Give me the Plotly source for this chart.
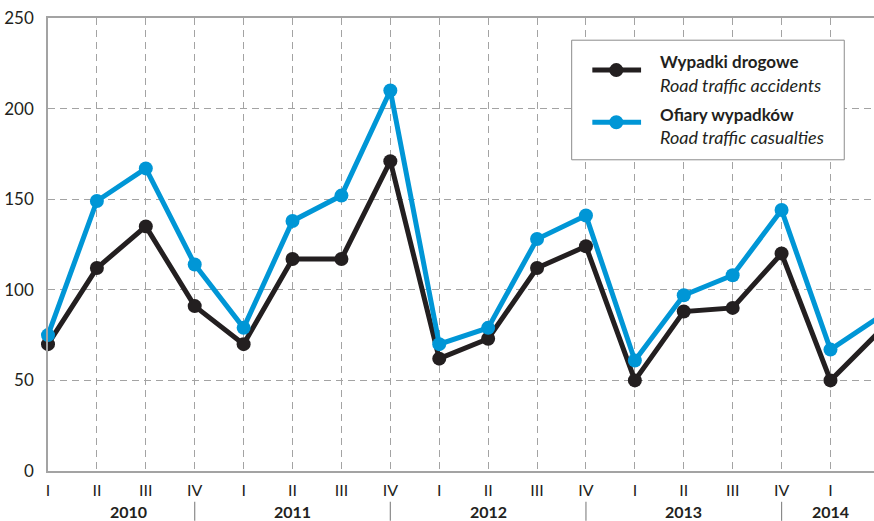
import plotly.graph_objects as go

# ---- data ----
quarters = ["I", "II", "III", "IV"] * 4 + ["I", "II"]
years = ["2010", "2011", "2012", "2013", "2014"]
accidents = [70, 112, 135, 91, 70, 117, 117, 171, 62, 73, 112, 124, 50, 88, 90, 120, 50, 77]
casualties = [75, 149, 167, 114, 79, 138, 152, 210, 70, 79, 128, 141, 61, 97, 108, 144, 67, 85]
y_ticks = [0, 50, 100, 150, 200, 250]
legend_names = [("Wypadki drogowe", "Road traffic accidents"),
                ("Ofiary wypadków", "Road traffic casualties")]

# ---- style ----
BLACK = "#231f20"
BLUE = "#0096d6"
GRID = "#a3a3a3"
FONT = "Lato"
x_idx = list(range(len(quarters)))

fig = go.Figure()
for vals, col in [(accidents, BLACK), (casualties, BLUE)]:
    sizes = [14] * (len(vals) - 1) + [0]
    fig.add_trace(go.Scatter(
        x=x_idx, y=vals, mode="lines+markers",
        line=dict(color=col, width=5),
        marker=dict(color=col, size=sizes, opacity=1, line=dict(width=0)),
        cliponaxis=False, showlegend=False, hoverinfo="skip"))

fig.update_layout(
    width=874, height=521, autosize=False,
    margin=dict(l=48, r=0, t=18, b=50, autoexpand=False),
    paper_bgcolor="white", plot_bgcolor="white",
    font=dict(family=FONT, color=BLACK, size=16),
    showlegend=False,
)
fig.update_xaxes(
    range=[0, 16.89], tickmode="array", tickvals=x_idx, ticktext=quarters,
    showgrid=True, gridcolor=GRID, gridwidth=1, griddash="7px,5px",
    showline=True, linecolor=GRID, linewidth=1.5, mirror=True,
    ticks="", tickfont=dict(size=16, family=FONT, color=BLACK),
    zeroline=False, automargin=False, ticklabelstandoff=4,
)
fig.update_yaxes(
    range=[0, 250], tickmode="array", tickvals=y_ticks,
    showgrid=True, gridcolor=GRID, gridwidth=1, griddash="7px,5px",
    showline=True, linecolor=GRID, linewidth=1.5,
    ticks="", tickfont=dict(size=17, family=FONT, color=BLACK),
    zeroline=False, ticklabelstandoff=9, automargin=False,
)

# year labels and separators
year_x = [1.64, 5, 9, 13, 16]
for yr, xp in zip(years, year_x):
    fig.add_annotation(x=xp, xref="x", y=-0.0905, yref="paper", text="<b>%s</b>" % yr,
                       showarrow=False, font=dict(size=16, family=FONT, color=BLACK),
                       xanchor="center", yanchor="middle")
for i, q in enumerate(quarters):
    if q == "IV":
        fig.add_shape(type="line", xref="x", yref="paper", x0=i, x1=i, y0=-0.068, y1=-0.11,
                      line=dict(color="#8a8a8a", width=1.2))

# legend box
fig.add_shape(type="rect", xref="paper", yref="paper", x0=0.634, x1=0.964, y0=0.687, y1=0.951,
              fillcolor="white", line=dict(color="#8c8c8c", width=1), layer="above")
for (bold, ital), col, ly in zip(legend_names, [BLACK, BLUE], [0.885, 0.770]):
    fig.add_shape(type="line", xref="paper", yref="paper", x0=0.659, x1=0.718, y0=ly, y1=ly,
                  line=dict(color=col, width=5), layer="above")
    fig.add_shape(type="circle", xref="paper", yref="paper", xsizemode="pixel", ysizemode="pixel",
                  xanchor=0.688, yanchor=ly, x0=-7, x1=7, y0=-7, y1=7,
                  fillcolor=col, line=dict(color=col, width=0), layer="above")
    fig.add_annotation(x=0.739, y=ly + 0.018, xref="paper", yref="paper", text="<b>%s</b>" % bold,
                       showarrow=False, xanchor="left", yanchor="middle",
                       font=dict(size=17, family=FONT, color=BLACK))
    fig.add_annotation(x=0.739, y=ly - 0.033, xref="paper", yref="paper", text="<i>%s</i>" % ital,
                       showarrow=False, xanchor="left", yanchor="middle",
                       font=dict(size=18, family=FONT, color=BLACK))

# remove the browser's default 8px body margin so the figure sits at the page origin
fig.write_html("out.html", config={"displayModeBar": False},
               post_script="document.body.style.margin='0px';")
